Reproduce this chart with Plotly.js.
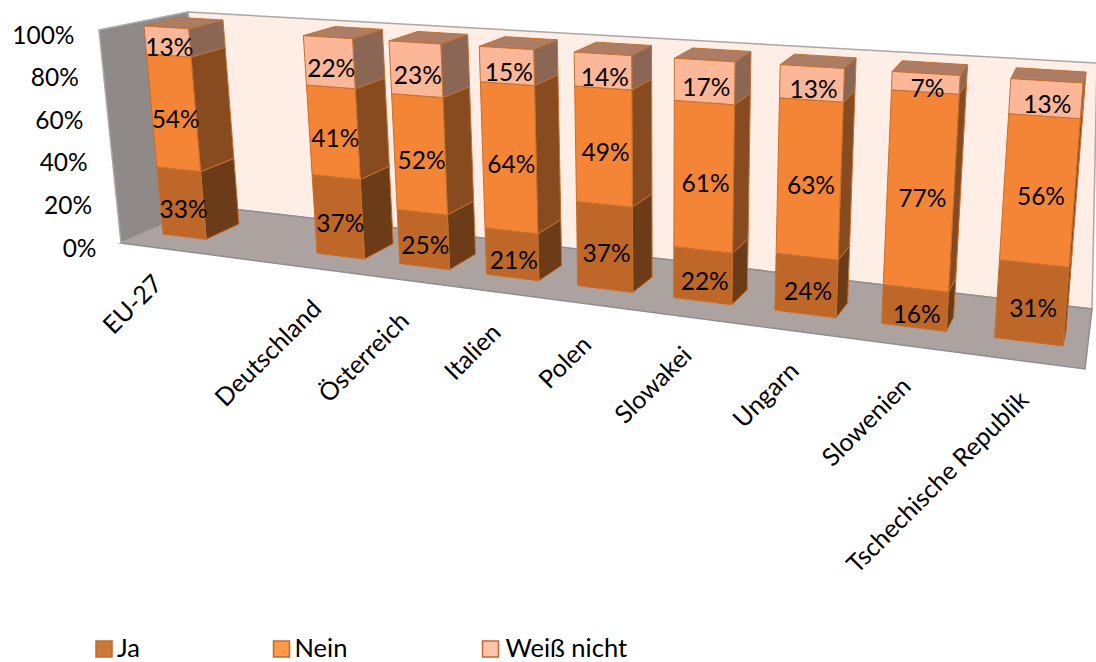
<!DOCTYPE html>
<html><head><meta charset="utf-8">
<script src="https://cdn.plot.ly/plotly-3.0.1.min.js"></script>
<style>html,body{margin:0;padding:0;background:#fff}#c{width:1096px;height:662px}</style>
</head><body><div id="c"></div>
<script>
// ---------- data ----------
const categories = ["EU-27","","Deutschland","Österreich","Italien","Polen","Slowakei","Ungarn","Slowenien","Tschechische Republik"];
const ja        = [33,null,37,25,21,37,22,24,16,31];
const nein      = [54,null,41,52,64,49,61,63,77,56];
const weissNicht= [13,null,22,23,15,14,17,13,7,13];
const seriesNames = ["Ja","Nein","Weiß nicht"];
const yTicks = [0,20,40,60,80,100];

// ---------- styling / layout constants ----------
const FONT = "Lato, Carlito, Calibri, sans-serif";
const frontCol = ["#BF6629","#F58536","#FBB797"];
const sideCol  = ["#6C3B18","#884B20","#8B6655"];
const topCol   = "#AD7C64";
const edgeCol  = "#C4702F";
const swatchCol= ["#C97A38","#FB9A4C","#FCC4AC"];
const swatchX  = [104,281.5,490.5];
const swatchY  = 649;
const legendTextY = 651;
const legendTextGap = [13,13,15];
const barWidth = 0.58;
const labelEnds = [[169,266],null,[328,291],[416,303],[507,315],[598,327],[698,338],[805,354],[917,369],[1035,382]];
const axisFont = 24.5, catFont = 25, legFont = 25.5;

// ---------- perspective projection of (category position, percent) onto the picture ----------
function homography(src, dst){
  const A=[],b=[];
  src.forEach((s,i)=>{const [u,v]=s,[x,y]=dst[i];
    A.push([u,v,1,0,0,0,-u*x,-v*x]);b.push(x);
    A.push([0,0,0,u,v,1,-u*y,-v*y]);b.push(y);});
  const n=8;
  for(let i=0;i<n;i++){
    let p=i;for(let r=i+1;r<n;r++) if(Math.abs(A[r][i])>Math.abs(A[p][i])) p=r;
    [A[i],A[p]]=[A[p],A[i]];[b[i],b[p]]=[b[p],b[i]];
    for(let r=0;r<n;r++){ if(r===i) continue; const f=A[r][i]/A[i][i];
      for(let c=i;c<n;c++) A[r][c]-=f*A[i][c]; b[r]-=f*b[i]; }
  }
  const h=b.map((v,i)=>v/A[i][i]);
  return (u,v)=>{const w=h[6]*u+h[7]*v+1;return [(h[0]*u+h[1]*v+h[2])/w,(h[3]*u+h[4]*v+h[5])/w];};
}
const frontP = homography([[0.21,0],[0.21,100],[9.79,0],[9.79,100]],[[163,234],[144,26],[1063,346],[1083,83]]);
const backH  = homography([[0.79,0],[0.79,100],[9.79,0],[9.79,100]],[[239,224],[223,20],[1066,332],[1086,72]]);
const backP  = (u,v)=>{const p=backH(u,v);return [p[0]+0.28*(u-0.79)*(9.79-u),p[1]];};
const wallEdge = v => [121-22*v/100-24.5, 243-213*v/100+7.5];

function poly(pts,store){pts.forEach(p=>{store.x.push(p[0]);store.y.push(p[1]);});store.x.push(pts[0][0],null);store.y.push(pts[0][1],null);}
const series=[ja,nein,weissNicht];
const traces=[];
function faceTrace(store,fill,name){
  return {type:"scatter",mode:"lines",x:store.x,y:store.y,fill:"toself",fillcolor:fill,
    line:{color:edgeCol,width:1},hoverinfo:"skip",showlegend:false,name:name};
}
const sides=[{x:[],y:[]},{x:[],y:[]},{x:[],y:[]}],fronts=[{x:[],y:[]},{x:[],y:[]},{x:[],y:[]}],tops={x:[],y:[]};
const textT=[{x:[],y:[],t:[]},{x:[],y:[],t:[]},{x:[],y:[],t:[]}];
categories.forEach((c,i)=>{
  if(ja[i]===null) return;
  const uL=i+0.5-barWidth/2,uR=i+0.5+barWidth/2;
  let base=0;
  series.forEach((s,k)=>{
    const v0=base,v1=base+s[i];base=v1;
    poly([frontP(uR,v0),backP(uR,v0),backP(uR,v1),frontP(uR,v1)],sides[k]);
    poly([frontP(uL,v0),frontP(uR,v0),frontP(uR,v1),frontP(uL,v1)],fronts[k]);
    const m=frontP(i+0.5,(v0+v1)/2);
    textT[k].x.push(m[0]+2);textT[k].y.push(m[1]+8.5);textT[k].t.push(s[i]+"%");
  });
  poly([frontP(uL,base),frontP(uR,base),backP(uR,base),backP(uL,base)],tops);
});
sides.forEach((s,k)=>traces.push(faceTrace(s,sideCol[k],seriesNames[k]+" side")));
traces.push(faceTrace(tops,topCol,"top"));
fronts.forEach((s,k)=>traces.push(faceTrace(s,frontCol[k],seriesNames[k])));
textT.forEach((s,k)=>traces.push({type:"scatter",mode:"text",x:s.x,y:s.y,text:s.t,textposition:"middle center",
  textfont:{family:FONT,size:axisFont,color:"#000"},hoverinfo:"skip",showlegend:false,name:seriesNames[k]+" labels"}));
// y-axis tick labels follow the slanted front edge of the side wall
traces.push({type:"scatter",mode:"text",x:yTicks.map(v=>wallEdge(v)[0]),y:yTicks.map(v=>wallEdge(v)[1]),
  text:yTicks.map(v=>v+"%"),textposition:"middle left",textfont:{family:FONT,size:axisFont,color:"#000"},
  hoverinfo:"skip",showlegend:false,name:"y ticks"});
// legend
seriesNames.forEach((n,k)=>{
  traces.push({type:"scatter",mode:"markers",x:[swatchX[k]],y:[swatchY],
    marker:{symbol:"square",size:16,color:swatchCol[k],line:{color:"#BE6A2E",width:1.5}},
    hoverinfo:"skip",showlegend:false,name:n+" key"});
  traces.push({type:"scatter",mode:"text",x:[swatchX[k]+legendTextGap[k]],y:[legendTextY],text:[n],
    textposition:"middle right",textfont:{family:FONT,size:legFont,color:"#000"},
    hoverinfo:"skip",showlegend:false,name:n});
});

const shapes=[
 {type:"path",path:"M188,12 L1097,63 L1092,309 L206,206 Z",fillcolor:"#FFEEE6",line:{color:"#A8A8A8",width:1.5},layer:"below"},
 {type:"path",path:"M206,206 L1092,309 L1085,369 L121,243 Z",fillcolor:"#ACA3A1",line:{color:"#8E8E8E",width:1.5},layer:"below"},
 {type:"path",path:"M99,30 L188,12 L206,206 L121,243 Z",fillcolor:"#8F8987",line:{color:"#A8A8A8",width:1.5},layer:"below"}
];
const annotations=[];
categories.forEach((c,i)=>{ if(!c) return;
  annotations.push({text:c,x:labelEnds[i][0],y:labelEnds[i][1],xref:"x",yref:"y",xanchor:"right",yanchor:"top",
    textangle:-45,showarrow:false,font:{family:FONT,size:catFont,color:"#000"},borderpad:0});
});
Plotly.newPlot("c",traces,{
  width:1096,height:662,margin:{l:0,r:0,t:0,b:0},paper_bgcolor:"#fff",plot_bgcolor:"#fff",showlegend:false,
  xaxis:{range:[0,1096],visible:false,fixedrange:true},
  yaxis:{range:[662,0],visible:false,fixedrange:true},
  shapes:shapes,annotations:annotations,hovermode:false
},{displayModeBar:false,staticPlot:true});
</script></body></html>
